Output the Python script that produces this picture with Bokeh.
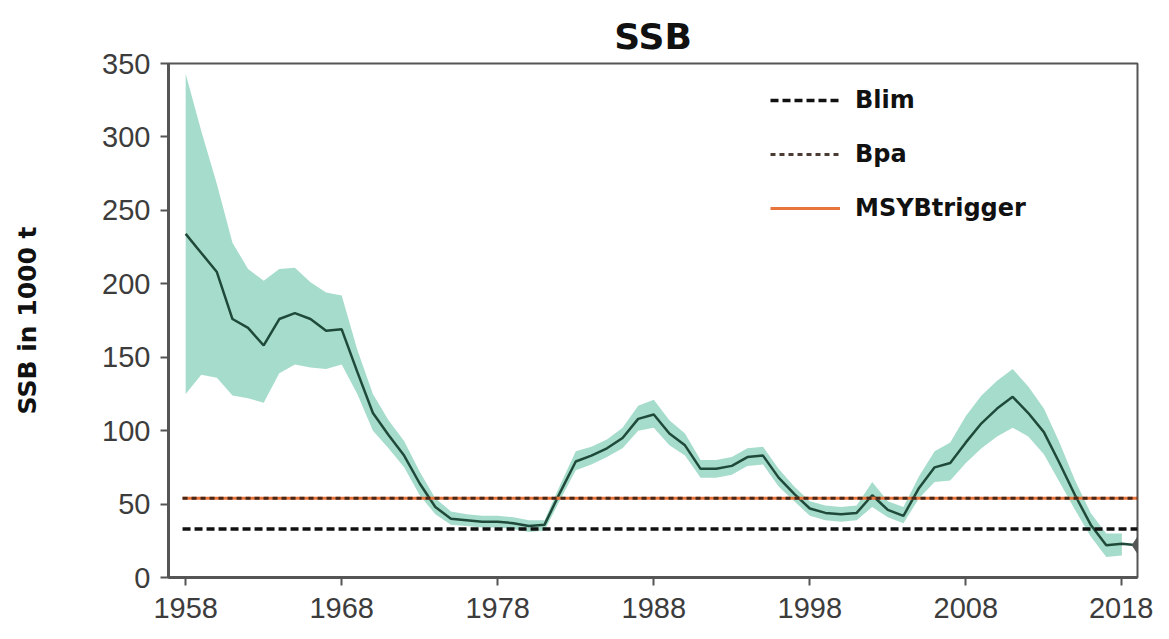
from bokeh.plotting import figure
from bokeh.models import ColumnDataSource, Legend, LegendItem, FixedTicker, Range1d
from bokeh.embed import file_html
from bokeh.resources import INLINE

years = list(range(1958, 2019))
ssb = [234, 221, 208, 176, 170, 158, 176, 180, 176, 168,
       169, 140, 112, 97, 83, 64, 48, 40, 39, 38,
       38, 37, 35, 36, 58, 79, 83, 88, 95, 108,
       111, 98, 90, 74, 74, 76, 82, 83, 68, 57,
       47, 44, 43, 44, 56, 46, 42, 61, 75, 78,
       92, 105, 115, 123, 112, 99, 78, 56, 36, 22,
       23]
ssb_high = [343, 304, 268, 228, 210, 202, 210, 211, 201, 194,
            192, 155, 125, 107, 93, 72, 54, 45, 43, 42,
            42, 41, 39, 39, 63, 86, 89, 94, 102, 117,
            121, 107, 98, 80, 80, 82, 88, 89, 74, 62,
            52, 49, 48, 49, 65, 52, 48, 69, 86, 92,
            110, 124, 134, 142, 130, 115, 92, 66, 44, 30,
            30]
ssb_low = [125, 138, 136, 124, 122, 119, 139, 145, 143, 142,
           145, 125, 100, 88, 75, 56, 43, 36, 35, 34,
           34, 33, 31, 32, 53, 73, 77, 82, 88, 100,
           102, 90, 83, 68, 68, 70, 76, 77, 62, 52,
           42, 39, 38, 39, 48, 41, 37, 54, 65, 66,
           78, 88, 96, 102, 96, 84, 65, 46, 28, 14,
           15]
proj_year = [2019]
proj_ssb = [22]

blim = 33
bpa = 54
msy_btrigger = 54

x_ticks = [1958, 1968, 1978, 1988, 1998, 2008, 2018]
y_ticks = [0, 50, 100, 150, 200, 250, 300, 350]

p = figure(width=1153, height=623, output_backend="svg", toolbar_location=None,
           x_range=Range1d(1956.9, 2019.0), y_range=Range1d(0, 350),
           min_border_left=168, min_border_right=16, min_border_top=63, min_border_bottom=46,
           title="SSB")

p.title.align = "center"
p.title.text_font = "DejaVu Sans"
p.title.text_font_style = "bold"
p.title.text_font_size = "36px"
p.title.text_color = "#111111"
p.title.standoff = 14

p.xgrid.visible = False
p.ygrid.visible = False
p.outline_line_color = "#555555"
p.outline_line_width = 2

src = ColumnDataSource(dict(year=years, ssb=ssb, hi=ssb_high, lo=ssb_low))
p.varea(x="year", y1="lo", y2="hi", source=src, fill_color="#a6dccb", fill_alpha=1.0)

xs_line = years + proj_year
ys_line = ssb + proj_ssb
p.line(xs_line, ys_line, line_color="#1f4a3a", line_width=2.5)

x0, x1 = 1956.9, 2019.0
r_msy = p.line([x0 + 0.9, x1], [msy_btrigger, msy_btrigger], line_color="#e8743b", line_width=3)
r_bpa = p.line([x0 + 0.9, x1], [bpa, bpa], line_color="#2a1a12", line_width=3, line_dash="5 4", line_alpha=0.85)
r_blim = p.line([x0 + 0.9, x1], [blim, blim], line_color="#111111", line_width=3.5, line_dash="8 4")

p.scatter(proj_year, proj_ssb, marker="diamond", size=16, color="#555555")

for ax in (p.xaxis[0], p.yaxis[0]):
    ax.axis_line_width = 3
    ax.axis_line_color = "#555555"
    ax.major_tick_line_color = "#555555"
    ax.major_tick_line_width = 2
    ax.major_tick_out = 8
    ax.major_tick_in = 0
    ax.minor_tick_line_color = None
    ax.major_label_text_font = "Liberation Sans"
    ax.major_label_text_font_size = "29px"
    ax.major_label_text_color = "#3c3c3c"

p.xaxis.ticker = FixedTicker(ticks=x_ticks)
p.yaxis.ticker = FixedTicker(ticks=y_ticks)
p.xaxis.major_label_standoff = 12
p.yaxis.major_label_standoff = 10
p.yaxis.axis_label = "SSB in 1000 t"
p.yaxis.axis_label_text_font = "DejaVu Sans"
p.yaxis.axis_label_text_font_style = "bold"
p.yaxis.axis_label_text_font_size = "25px"
p.yaxis.axis_label_text_color = "#111111"
p.yaxis.axis_label_standoff = 57

legend = Legend(items=[
    LegendItem(label="Blim", renderers=[r_blim]),
    LegendItem(label="Bpa", renderers=[r_bpa]),
    LegendItem(label="MSYBtrigger", renderers=[r_msy]),
], location=(602, 355))
legend.border_line_color = None
legend.background_fill_alpha = 0
legend.label_text_font = "DejaVu Sans"
legend.label_text_font_style = "bold"
legend.label_text_font_size = "24px"
legend.label_text_color = "#111111"
legend.glyph_width = 70
legend.glyph_height = 24
legend.label_height = 24
legend.label_standoff = 15
legend.spacing = 26
legend.padding = 0
legend.margin = 0
p.add_layout(legend)

open("out.html", "w").write(file_html(p, INLINE))
